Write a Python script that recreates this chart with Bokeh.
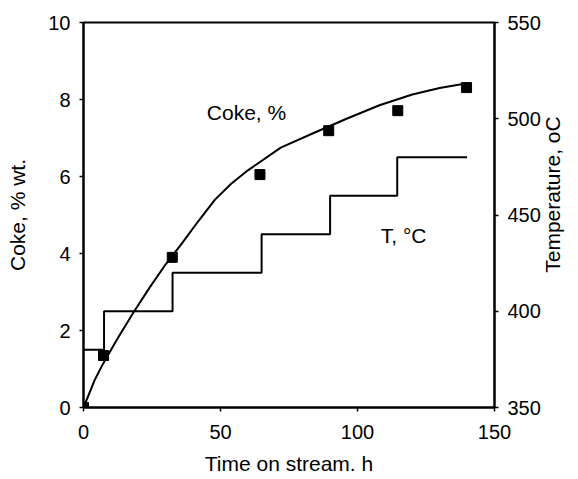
import math
from bokeh.plotting import figure
from bokeh.models import Range1d, LinearAxis, FixedTicker, Label
from bokeh.embed import file_html
from bokeh.resources import INLINE

# Coke measurements (squares)
t_pts = [0, 7.3, 32.4, 64.4, 89.5, 114.7, 139.8]
coke_pts = [0.0, 1.35, 3.9, 6.05, 7.19, 7.71, 8.31]

# Coke fitted curve
t_curve = [0, 4, 7, 12, 18, 24, 30, 36, 42, 48, 54, 60, 72, 84, 96, 108, 120, 130, 140]
coke_curve = [0.0, 0.7, 1.12, 1.74, 2.44, 3.1, 3.72, 4.27, 4.85, 5.4, 5.82, 6.16, 6.75, 7.13,
              7.5, 7.85, 8.13, 8.3, 8.42]

# Temperature program (step)
t_temp = [0, 7.5, 32.5, 65, 90, 114.5, 140]
temp = [380, 400, 420, 440, 460, 480, 480]

FONT = "Liberation Sans"

p = figure(width=578, height=479, output_backend="svg", toolbar_location=None,
           x_range=Range1d(0, 150), y_range=Range1d(0, 10),
           min_border_left=83, min_border_right=10, min_border_top=22, min_border_bottom=72)
p.extra_y_ranges = {"temp": Range1d(350, 550)}
p.xgrid.visible = False
p.ygrid.visible = False
p.outline_line_color = "black"
p.outline_line_width = 2
p.outline_line_alpha = 1
p.background_fill_color = "white"
p.border_fill_color = "white"

p.xaxis.ticker = FixedTicker(ticks=[0, 50, 100, 150])
p.yaxis.ticker = FixedTicker(ticks=[0, 2, 4, 6, 8, 10])
p.xaxis.axis_label = "Time on stream. h"
p.yaxis.axis_label = "Coke, % wt."

right = LinearAxis(y_range_name="temp",
                   ticker=FixedTicker(ticks=[350, 400, 450, 500, 550]))
p.add_layout(right, "right")

for ax in [p.xaxis[0], p.yaxis[0], right]:
    ax.axis_line_width = 2
    ax.axis_line_color = "black"
    ax.major_tick_line_color = "black"
    ax.major_tick_line_width = 1.5
    ax.major_tick_out = 4
    ax.major_tick_in = 0
    ax.minor_tick_line_color = None
    ax.major_label_text_font = FONT
    ax.major_label_text_font_size = "20px"
    ax.major_label_text_color = "black"
    ax.axis_label_text_font = FONT
    ax.axis_label_text_font_size = "21px"
    ax.axis_label_text_font_style = "normal"
    ax.axis_label_text_color = "black"

# right-hand title drawn as a rotated single tick label (reads bottom-to-top)
right_title = LinearAxis(y_range_name="temp", ticker=FixedTicker(ticks=[420]),
                         major_label_overrides={420: "Temperature, oC"},
                         major_label_orientation=math.pi / 2,
                         axis_line_color=None, major_tick_line_color=None,
                         minor_tick_line_color=None, major_tick_out=0, major_tick_in=0,
                         major_label_standoff=12,
                         major_label_text_font=FONT, major_label_text_font_size="21px",
                         major_label_text_color="black")
p.add_layout(right_title, "right")

p.xaxis.major_label_standoff = 13
p.xaxis.axis_label_standoff = 10
p.yaxis.major_label_standoff = 9
p.yaxis.axis_label_standoff = 16
right.major_label_standoff = 9

p.line(t_curve, coke_curve, line_color="black", line_width=2)
p.step(t_temp, temp, mode="after", y_range_name="temp", line_color="black", line_width=2)
p.scatter(t_pts, coke_pts, marker="square", size=10, fill_color="black", line_color="black")

p.add_layout(Label(x=45, y=7.66, text="Coke, %", text_font=FONT, text_font_size="21px",
                   text_color="black", text_baseline="middle"))
p.add_layout(Label(x=108.5, y=4.47, text="T, °C", text_font=FONT, text_font_size="21px",
                   text_color="black", text_baseline="middle"))

open("out.html", "w").write(file_html(p, INLINE))
